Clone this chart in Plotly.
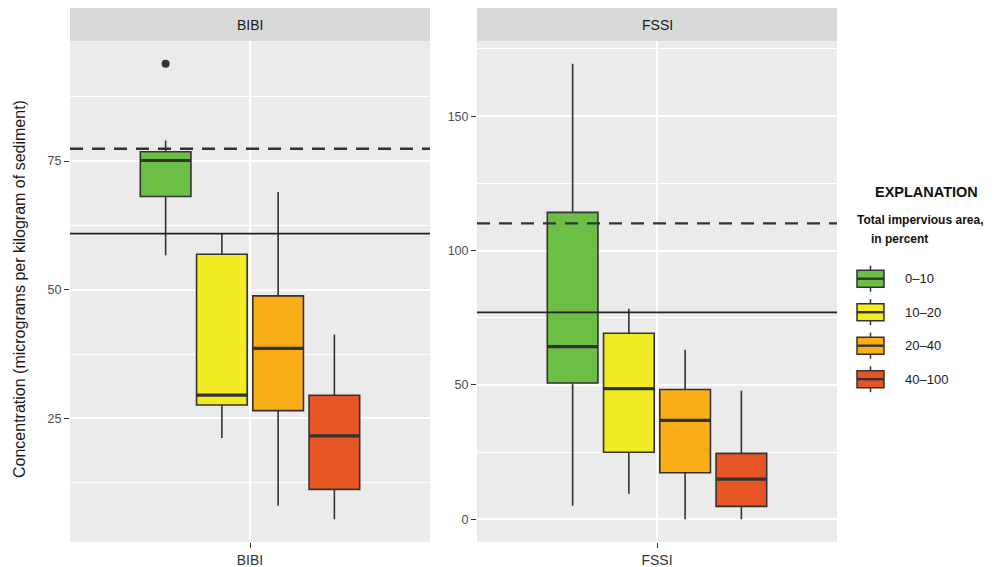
import plotly.graph_objects as go

# ---- data -------------------------------------------------------------
panels = ["BIBI", "FSSI"]
groups = ["0–10", "10–20", "20–40", "40–100"]
colors = ["#6CBE45", "#F2EA22", "#F9AE17", "#E75525"]

# five-number summaries, one value per impervious-area class
bibi_low = [56.7, 21.2, 8.0, 5.4]
bibi_q1 = [68.1, 27.6, 26.5, 11.2]
bibi_med = [75.1, 29.5, 38.6, 21.6]
bibi_q3 = [76.8, 56.9, 48.8, 29.5]
bibi_high = [79.0, 60.9, 69.0, 41.3]
bibi_outliers = [[93.9], [], [], []]

fssi_low = [5.0, 9.5, 0.0, 0.0]
fssi_q1 = [50.7, 24.9, 17.3, 4.8]
fssi_med = [64.2, 48.6, 36.8, 14.9]
fssi_q3 = [114.2, 69.2, 48.3, 24.5]
fssi_high = [169.5, 78.3, 63.1, 47.8]
fssi_outliers = [[], [], [], []]

# guideline concentrations per panel
solid_lines = [60.9, 77.0]
dashed_lines = [77.4, 110.1]

# tick spacing per panel
major_dtick = [25, 50]

# ---- layout geometry (pixels) ----------------------------------------
W, H = 998, 567
ML, MR, MT, MB = 70, 161, 8, 25
PW = W - ML - MR
PH = H - MT - MB
STRIP = 33
panel_px = [(70, 430), (477, 837)]


def px_x(px):
    return (px - ML) / PW


def px_y(py):
    return (H - MB - py) / PH


INK = "#333333"
FONT = "Liberation Sans, Arial, sans-serif"

stats = [
    (bibi_low, bibi_q1, bibi_med, bibi_q3, bibi_high, bibi_outliers),
    (fssi_low, fssi_q1, fssi_med, fssi_q3, fssi_high, fssi_outliers),
]

n = len(groups)
slot = 0.75 / n
positions = [(i - (n - 1) / 2) * slot for i in range(n)]
box_w = 0.9 * slot

fig = go.Figure()
for p, (low, q1, med, q3, high, outl) in enumerate(stats):
    xa = "x" if p == 0 else "x2"
    ya = "y" if p == 0 else "y2"
    for i in range(n):
        fig.add_trace(go.Box(
            x=[positions[i]], q1=[q1[i]], median=[med[i]], q3=[q3[i]],
            lowerfence=[low[i]], upperfence=[high[i]],
            width=box_w, whiskerwidth=0,
            fillcolor=colors[i], line=dict(color=INK, width=1.6),
            name=groups[i], showlegend=False, xaxis=xa, yaxis=ya,
            hoverinfo="skip",
        ))
        # heavier median bar
        fig.add_trace(go.Box(
            x=[positions[i]], q1=[med[i]], median=[med[i]], q3=[med[i]],
            lowerfence=[med[i]], upperfence=[med[i]],
            width=box_w, whiskerwidth=0,
            fillcolor="rgba(0,0,0,0)", line=dict(color=INK, width=3.2),
            showlegend=False, xaxis=xa, yaxis=ya, hoverinfo="skip",
        ))
        if outl[i]:
            fig.add_trace(go.Scatter(
                x=[positions[i]] * len(outl[i]), y=outl[i], mode="markers",
                marker=dict(color=INK, size=8), showlegend=False,
                xaxis=xa, yaxis=ya, hoverinfo="skip",
            ))

# ---- axes ---------------------------------------------------------------
ydom = [0, (PH - STRIP) / PH]
for p in range(2):
    low, q1, med, q3, high, outl = stats[p]
    vals = low + high + [v for o in outl for v in o]
    lo, hi = min(vals), max(vals)
    pad = 0.05 * (hi - lo)
    x0, x1 = panel_px[p]
    xkey = "xaxis" if p == 0 else "xaxis2"
    ykey = "yaxis" if p == 0 else "yaxis2"
    fig.update_layout({
        xkey: dict(
            domain=[px_x(x0), px_x(x1)], range=[-0.6, 0.6],
            tickvals=[0], ticktext=[panels[p]],
            ticks="outside", ticklen=5, tickwidth=1.2, tickcolor=INK,
            showgrid=True, gridcolor="white", gridwidth=1.6,
            zeroline=False, showline=False,
            tickfont=dict(size=14, color="#333333", family=FONT),
            anchor="y" if p == 0 else "y2", fixedrange=True,
        ),
        ykey: dict(
            domain=ydom, range=[lo - pad, hi + pad],
            tick0=0, dtick=major_dtick[p],
            ticks="outside", ticklen=5, tickwidth=1.2, tickcolor=INK,
            showgrid=True, gridcolor="white", gridwidth=1.6,
            minor=dict(dtick=major_dtick[p] / 2, tick0=0, showgrid=True,
                       gridcolor="white", gridwidth=0.8, ticks=""),
            zeroline=False, showline=False,
            tickfont=dict(size=12.5, color="#4D4D4D", family=FONT),
            anchor="x" if p == 0 else "x2", fixedrange=True,
        ),
    })

shapes = []
annotations = []


def label(text, x, y, size, color="#1A1A1A", xanchor="center", **kw):
    annotations.append(dict(text=text, xref="paper", yref="paper",
                            x=x, y=y, xanchor=xanchor, yanchor="middle",
                            showarrow=False,
                            font=dict(size=size, color=color, family=FONT),
                            **kw))


for p in range(2):
    xd = "x domain" if p == 0 else "x2 domain"
    yr = "y" if p == 0 else "y2"
    # panel background
    shapes.append(dict(type="rect", xref=xd, yref="paper", x0=0, x1=1,
                       y0=0, y1=ydom[1], fillcolor="#EBEBEB",
                       line=dict(width=0), layer="below"))
    # strip
    shapes.append(dict(type="rect", xref=xd, yref="paper", x0=0, x1=1,
                       y0=ydom[1], y1=1, fillcolor="#D9D9D9",
                       line=dict(width=0), layer="below"))
    annotations.append(dict(text=panels[p], xref=xd, yref="paper",
                            x=0.5, y=(ydom[1] + 1) / 2, xanchor="center",
                            yanchor="middle", showarrow=False,
                            font=dict(size=14, color="#1A1A1A", family=FONT)))
    # guideline levels
    shapes.append(dict(type="line", xref=xd, yref=yr, x0=0, x1=1,
                       y0=solid_lines[p], y1=solid_lines[p],
                       line=dict(color="#222222", width=1.8), layer="above"))
    shapes.append(dict(type="line", xref=xd, yref=yr, x0=0, x1=1,
                       y0=dashed_lines[p], y1=dashed_lines[p],
                       line=dict(color="#333333", width=2.4, dash="13px,9px"),
                       layer="above"))

# y-axis title
label("Concentration (micrograms per kilogram of sediment)",
      px_x(19), px_y(289), 16, textangle=-90)

# ---- explanation --------------------------------------------------------
label("<b>EXPLANATION</b>", px_x(926.5), px_y(191.5), 14.5, "#111111")
label("<b>Total impervious area,</b>", px_x(855), px_y(220), 12, "#111111",
      xanchor="left")
label("<b>in percent</b>", px_x(869), px_y(239), 12, "#111111",
      xanchor="left")

kx0, kx1 = 857, 884
kxm = (kx0 + kx1) / 2
for i in range(n):
    cy = 278.7 + i * 33.5
    shapes.append(dict(type="line", xref="paper", yref="paper",
                       x0=px_x(kxm), x1=px_x(kxm),
                       y0=px_y(cy - 13), y1=px_y(cy + 13),
                       line=dict(color=INK, width=1.5)))
    shapes.append(dict(type="rect", xref="paper", yref="paper",
                       x0=px_x(kx0), x1=px_x(kx1),
                       y0=px_y(cy - 8.5), y1=px_y(cy + 8.5),
                       fillcolor=colors[i], line=dict(color=INK, width=1.5)))
    shapes.append(dict(type="line", xref="paper", yref="paper",
                       x0=px_x(kx0), x1=px_x(kx1),
                       y0=px_y(cy), y1=px_y(cy),
                       line=dict(color=INK, width=2.4)))
    label(groups[i], px_x(903), px_y(cy), 13, xanchor="left")

fig.update_layout(
    width=W, height=H,
    margin=dict(l=ML, r=MR, t=MT, b=MB, autoexpand=False),
    paper_bgcolor="white", plot_bgcolor="rgba(0,0,0,0)",
    font=dict(family=FONT),
    showlegend=False,
    shapes=shapes, annotations=annotations,
)

fig.write_html("out.html")
